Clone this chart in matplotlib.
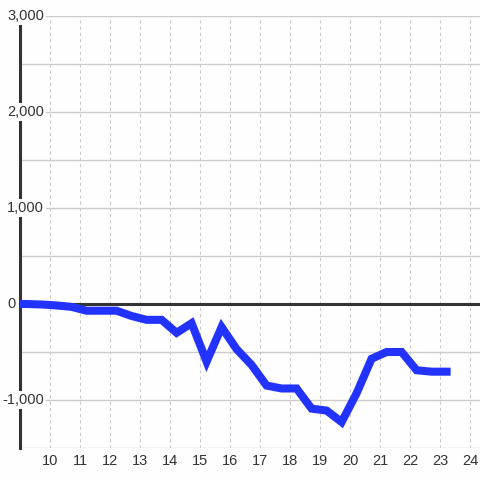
import matplotlib
matplotlib.use("Agg")
import matplotlib.pyplot as plt
from matplotlib.ticker import MultipleLocator

plt.rcParams['font.family'] = ['Liberation Sans', 'DejaVu Sans']

# half-hour samples, first one sits just left of the visible range
x_vals = [8.72, 9.22, 9.72, 10.22, 10.72, 11.22, 11.72, 12.22, 12.72, 13.22,
          13.72, 14.22, 14.72, 15.22, 15.72, 16.22, 16.72, 17.22, 17.72, 18.22,
          18.72, 19.22, 19.72, 20.22, 20.72, 21.22, 21.72, 22.22, 22.72, 23.22]
y_vals = [0, 0, -5, -15, -30, -70, -70, -70, -125, -165,
          -165, -300, -200, -600, -240, -470, -635, -850, -880, -880,
          -1090, -1110, -1230, -930, -570, -500, -500, -690, -705, -705]

x_ticks = list(range(10, 25))
y_label_vals = [-1000, 0, 1000, 2000, 3000]
y_labels = ['-1,000', '0', '1,000', '2,000', '3,000']

bg = '#fdfefd'
dark = '#333333'
blue = '#2233ff'

fig = plt.figure(figsize=(4.8, 4.8), dpi=100, facecolor=bg)
ax = fig.add_axes([20 / 480, 32 / 480, 460 / 480, 432 / 480])
ax.set_facecolor(bg)

ax.set_xlim(9, 24 + 1 / 3)
ax.set_ylim(-1500, 3000)

# grid: solid horizontal every 500, dotted vertical every hour
ax.yaxis.set_major_locator(MultipleLocator(500))
ax.set_xticks(x_ticks)
ax.grid(axis='y', color='#cccccc', lw=1.0, ls='-')
ax.grid(axis='x', color='#c8c8c8', lw=0.75, ls=(0, (3, 3)))
ax.set_axisbelow(True)

for s in ['top', 'right', 'bottom']:
    ax.spines[s].set_visible(False)
ax.spines['left'].set_color(dark)
ax.spines['left'].set_linewidth(2.2)
ax.spines['left'].set_zorder(2)

ax.tick_params(axis='both', length=0)
ax.tick_params(axis='x', pad=4, labelsize=10.5, labelcolor=dark)
ax.set_yticklabels([])

ax.axhline(0, color=dark, lw=2.2, zorder=3)

ax.plot(x_vals, y_vals, color=blue, lw=5.8, solid_joinstyle='miter',
        solid_capstyle='projecting', zorder=4)

# y labels sit over the spine with a background patch
for v, lab in zip(y_label_vals, y_labels):
    off = -13 if v >= 0 else -18
    ax.annotate(lab, xy=(0, v), xycoords=('axes fraction', 'data'),
                xytext=(off * 0.72, 0), textcoords='offset points',
                ha='left', va='center', fontsize=10.5, color=dark, zorder=6,
                annotation_clip=False,
                bbox=dict(boxstyle='square,pad=0.15', fc=bg, ec='none'))

fig.savefig('out.png', dpi=100, facecolor=bg)
